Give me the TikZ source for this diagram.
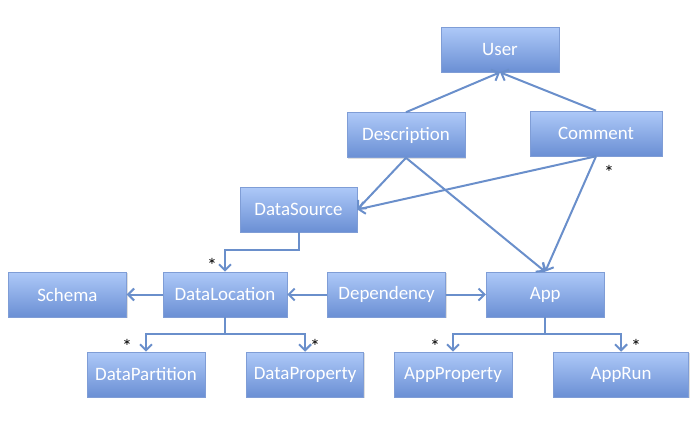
\documentclass[tikz,border=0pt]{standalone}
\usepackage{fontspec}
\setmainfont{Carlito}
\usetikzlibrary{positioning}
\usetikzlibrary{arrows.meta}
\usetikzlibrary{shadows}
\definecolor{boxtop}{HTML}{AEC9F8}
\definecolor{boxbottom}{HTML}{6A8FD4}
\definecolor{boxline}{HTML}{7F9DD6}
\definecolor{linkblue}{HTML}{6A8FCB}
\tikzset{%
	>={Straight Barb[length=6bp,width=12bp]},
	% Specifications for style of nodes:
	base/.style = {rectangle, draw=boxline, line width=0.6bp, top color=boxtop, bottom color=boxbottom, minimum width=118bp, minimum height=45bp, text=white, text centered, inner sep=0pt, font=\fontsize{19}{21}\selectfont, drop shadow={opacity=0.25, shadow xshift=1.2bp, shadow yshift=-1.2bp}},
	entity/.style = {base},
	link/.style = {draw=linkblue, line width=2bp},
	many/.style = {text=black, inner sep=0pt, font=\fontsize{20}{20}\selectfont},
}
\begin{document}
\begin{tikzpicture}[x=1bp,y=-1bp]
		\useasboundingbox (0,0) rectangle (700,424);

		\node (User) [entity] at (500,49.5) {User};
		\node (Description) [entity] at (406,135) {Description};
		\node (Comment) [entity, minimum width=132bp] at (596,133.5) {Comment};
		\node (DataSource) [entity, minimum width=117bp] at (298.5,209.5) {DataSource};

		\node (DataLocation) [entity, minimum width=124bp] at (225,294.5) {DataLocation};
		\node (Schema) [entity, left=36bp of DataLocation] {Schema};
		\node (Dependency) [entity, right=40bp of DataLocation] {Dependency};
		\node (App) [entity, right=40bp of Dependency] {App};

		\node (DataPartition) [entity] at (146,374.5) {DataPartition};
		\node (DataProperty) [entity, minimum width=117bp, right=41bp of DataPartition] {DataProperty};
		\node (AppProperty) [entity] at (453,374.5) {AppProperty};
		\node (AppRun) [entity, minimum width=135bp, right=41bp of AppProperty] {AppRun};

		\node (ManyComment) [many] at (609,172) {*};
		\node (ManyLocation) [many] at (212,265) {*};
		\node (ManyPartition) [many] at (127,346) {*};
		\node (ManyProperty) [many] at (315,346) {*};
		\node (ManyAppProperty) [many] at (435,346) {*};
		\node (ManyAppRun) [many] at (636,346) {*};

		\draw [link,->] (Description.north) -- (User.south);
		\draw [link,->] (Comment.north) -- (User.south);

		\draw [link,->] (Description.south) -- (DataSource.east);
		\draw [link,->] (Comment.south) -- (DataSource.east);
		\draw [link,->] (Description.south) -- (App.north);
		\draw [link,->] (Comment.south) -- (App.north);

		\draw [link,->] (DataSource.south) -- ++(0,18) -| (DataLocation.north);

		\draw [link,->] (DataLocation) -- (Schema);
		\draw [link,->] (Dependency) -- (DataLocation);
		\draw [link,->] (Dependency) -- (App);

		\draw [link,->] (DataLocation.south) -- ++(0,17) -| (DataPartition.north);
		\draw [link,->] (DataLocation.south) -- ++(0,17) -| (DataProperty.north);
		\draw [link,->] (App.south) -- ++(0,17) -| (AppProperty.north);
		\draw [link,->] (App.south) -- ++(0,17) -| (AppRun.north);
\end{tikzpicture}
\end{document}
